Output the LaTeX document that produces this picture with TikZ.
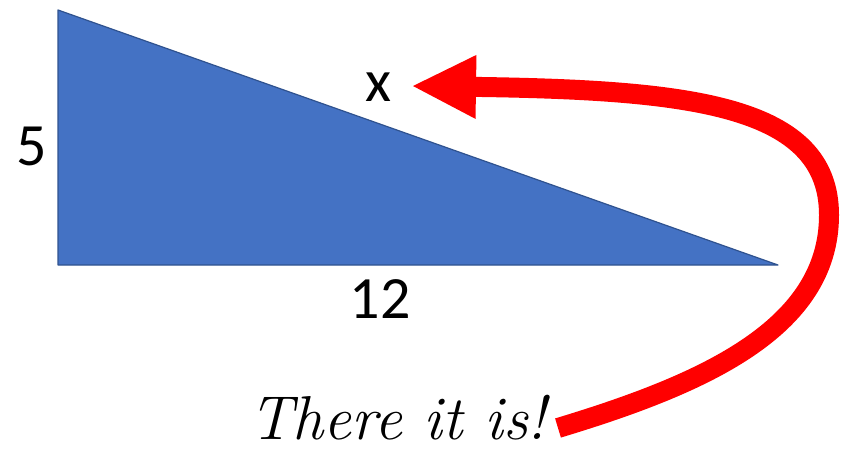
\documentclass[tikz,border=0pt]{standalone}
\usepackage{fontspec}
\usepackage{xcolor}
\usepackage{tikz}
\usetikzlibrary{arrows.meta}

\newfontfamily\labelfont{Carlito}
\definecolor{triblue}{HTML}{4472C4}
\definecolor{triedge}{HTML}{2F528F}

\begin{document}
\begin{tikzpicture}[
    x=1pt, y=-1pt,
    tribox/.style={fill=triblue, draw=triedge, line width=1.2pt, line join=round},
    sidelabel/.style={font=\labelfont\fontsize{60}{66}\selectfont, inner sep=0pt},
    caption/.style={font=\fontsize{62}{68}\selectfont\itshape, inner sep=0pt, anchor=base},
    redarrow/.style={draw=red, line width=20pt, -{Triangle[length=63pt, width=64pt, line width=0pt]}}
]
    \useasboundingbox (0,0) rectangle (850,450);

    % --- Triangle ---
    \coordinate (top) at (58,10);
    \coordinate (corner) at (58,265);
    \coordinate (right) at (778,265);
    \draw[tribox] (top) -- (corner) -- (right) -- cycle;

    % --- Labels ---
    \node[sidelabel] (side5) at (32,146) {5};
    \node[sidelabel] (side12) at (380,299) {12};
    \node[sidelabel] (hyp) at (378,87) {x};
    \node[caption] (there) at (398,439) {There it is!};

    % --- Arrow ---
    \coordinate (tail) at (558,428);
    \coordinate (bend) at (829,215);
    \coordinate (tip) at (413,86);
    \draw[redarrow] (tail) .. controls (700,385) and (829,330) .. (bend)
        .. controls (829,105) and (690,90) .. (tip);

\end{tikzpicture}
\end{document}
